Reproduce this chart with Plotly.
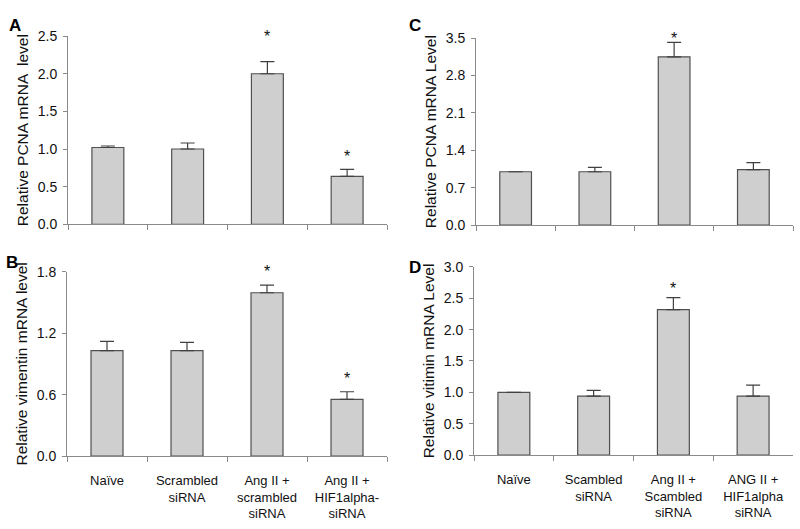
import plotly.graph_objects as go

cats_left = ["Naïve", "Scrambled<br>siRNA", "Ang II +<br>scrambled<br>siRNA", "Ang II +<br>HIF1alpha-<br>siRNA"]
cats_right = ["Naïve", "Scambled<br>siRNA", "Ang II +<br>Scambled<br>siRNA", "ANG II +<br>HIF1alpha<br>siRNA"]

# Panel A: PCNA (left top)
a_vals = [1.02, 1.00, 2.00, 0.635]
a_err = [0.02, 0.08, 0.16, 0.095]
a_star = [None, None, 2.53, 0.945]
# Panel B: vimentin (left bottom)
b_vals = [1.03, 1.03, 1.595, 0.553]
b_err = [0.09, 0.08, 0.075, 0.075]
b_star = [None, None, 1.83, 0.79]
# Panel C: PCNA (right top)
c_vals = [1.00, 1.00, 3.15, 1.04]
c_err = [0.0, 0.08, 0.27, 0.13]
c_star = [None, None, 3.55, None]
# Panel D: vitimin (right bottom)
d_vals = [1.00, 0.94, 2.32, 0.94]
d_err = [0.0, 0.09, 0.19, 0.175]
d_star = [None, None, 2.70, None]

W, H = 800, 529
panels = [
    dict(key="A", vals=a_vals, err=a_err, star=a_star, cats=cats_left, rng=[0, 2.5], dtick=0.5,
         title="Relative PCNA mRNA  level", xd=[68/W, 387/W], yd=[1-223/H, 1-29/H], labels=False,
         letter_xy=(7, 6)),
    dict(key="C", vals=c_vals, err=c_err, star=c_star, cats=cats_right, rng=[0, 3.5], dtick=0.7,
         title="Relative PCNA mRNA Level", xd=[476/W, 793/W], yd=[1-224/H, 1-31/H], labels=False,
         letter_xy=(407, 6)),
    dict(key="B", vals=b_vals, err=b_err, star=b_star, cats=cats_left, rng=[0, 1.8], dtick=0.6,
         title="Relative vimentin mRNA level", xd=[67/W, 387/W], yd=[1-462/H, 1-272/H], labels=True,
         letter_xy=(4, 251)),
    dict(key="D", vals=d_vals, err=d_err, star=d_star, cats=cats_right, rng=[0, 3.0], dtick=0.5,
         title="Relative vitimin mRNA Level", xd=[474/W, 793/W], yd=[1-461/H, 1-267/H], labels=True,
         letter_xy=(407, 256)),
]

FONT = "Liberation Sans, Arial, sans-serif"
AXC = "#8a8a8a"
fig = go.Figure()
annotations = []
layout = {}
for i, p in enumerate(panels):
    n = "" if i == 0 else str(i + 1)
    xa, ya = "x" + n, "y" + n
    fig.add_trace(go.Bar(
        x=p["cats"], y=p["vals"], xaxis=xa, yaxis=ya, width=0.4,
        marker=dict(color="#cfcfcf", line=dict(color="#505050", width=1.2)),
        error_y=dict(type="data", array=p["err"], arrayminus=[0]*4, symmetric=False,
                     color="#404040", thickness=1.2, width=7),
        showlegend=False, hoverinfo="skip"))
    # pixels per data unit on this y axis (stars above the axis top are shifted in pixels)
    px_per_unit = (p["yd"][1] - p["yd"][0]) * H / (p["rng"][1] - p["rng"][0])
    top = p["rng"][1]
    for c, s in zip(p["cats"], p["star"]):
        if s is None:
            continue
        anchor = min(s, top)
        annotations.append(dict(text="*", x=c, y=anchor, xref=xa, yref=ya, showarrow=False,
                                xanchor="center", yanchor="middle",
                                yshift=(s - anchor) * px_per_unit - 3,
                                font=dict(family=FONT, size=16, color="#111")))
    layout["xaxis" + n] = dict(
        domain=p["xd"], anchor=ya, type="category", tickson="boundaries",
        ticks="outside", ticklen=5, tickcolor=AXC, showline=True, linecolor=AXC, linewidth=1,
        showgrid=False, showticklabels=p["labels"], range=[-0.5, 3.5], ticklabelstandoff=12,
        tickfont=dict(family=FONT, size=13, color="#111"), fixedrange=True)
    layout["yaxis" + n] = dict(
        domain=p["yd"], anchor=xa, range=p["rng"], dtick=p["dtick"], tick0=0, tickformat=".1f",
        ticks="outside", ticklen=4, tickcolor=AXC, showline=True, linecolor=AXC, linewidth=1,
        showgrid=False, zeroline=False, ticklabelstandoff=3,
        tickfont=dict(family=FONT, size=14, color="#111"),
        title=dict(text=p["title"], font=dict(family=FONT, size=15.5, color="#111"), standoff=5),
        fixedrange=True)
    lx, ly = p["letter_xy"]
    annotations.append(dict(text="<b>%s</b>" % p["key"], x=lx/W, y=1-ly/H, xref="paper", yref="paper",
                            xanchor="left", yanchor="top", showarrow=False,
                            font=dict(family=FONT, size=17, color="#000")))

fig.update_layout(**layout)
fig.update_layout(width=W, height=H, margin=dict(l=0, r=0, t=0, b=0),
                  paper_bgcolor="white", plot_bgcolor="white", annotations=annotations,
                  font=dict(family=FONT))
fig.write_html("out.html", config={"displayModeBar": False},
               post_script="document.body.style.margin='0';")
